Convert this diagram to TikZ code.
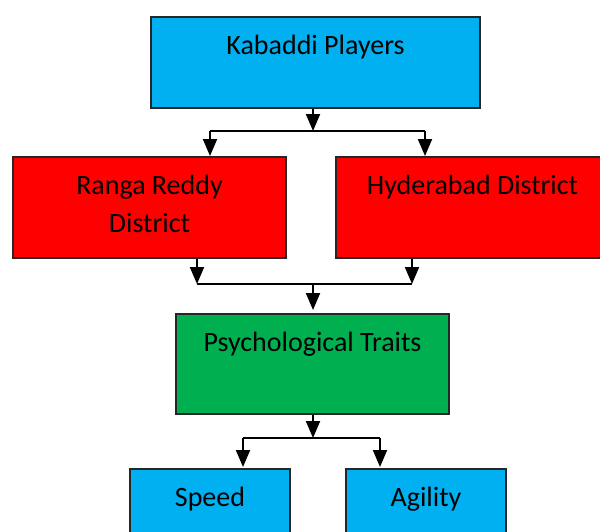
\documentclass[tikz,border=0pt]{standalone}
\definecolor{skyblue}{RGB}{0,176,240}
\definecolor{brightred}{RGB}{255,0,0}
\definecolor{leafgreen}{RGB}{0,176,80}
\colorlet{edge}{black!85}
\usepackage{fontspec}
\setmainfont{Carlito}
\usepackage{tikz}
\usetikzlibrary{positioning, arrows.meta}

\begin{document}
\begin{tikzpicture}[x=0.5pt, y=-0.5pt,
  catbox/.style={draw=edge, line width=1pt, anchor=north, align=center,
    inner ysep=0pt, text height=18.5pt, font=\fontsize{14}{19.2}\selectfont},
  wide/.style={minimum width=136.5pt},
  narrow/.style={minimum width=80pt},
  link/.style={line width=1pt, draw=black},
  arr/.style={link, -{Triangle[width=7pt, length=8.5pt]}},
]
  \useasboundingbox (0,0) rectangle (600,531);
  % boxes
  \node[catbox, fill=skyblue, minimum width=164.5pt, text depth=27pt] (kp) at (315.5,16) {Kabaddi Players};
  \node[catbox, wide, fill=brightred, text height=37.7pt, text depth=12.8pt] (rr) at (149.5,156) {Ranga Reddy\\District};
  \node[catbox, wide, fill=brightred, text depth=32pt] (hd) at (472.5,156) {Hyderabad District};
  \node[catbox, wide, fill=leafgreen, text depth=31.5pt] (pt) at (312.5,313) {Psychological Traits};
  \node[catbox, narrow, fill=skyblue, text depth=31.5pt] (sp) at (210,468) {Speed};
  \node[catbox, narrow, fill=skyblue, text depth=31.5pt] (ag) at (426,468) {Agility};
  % split under Kabaddi Players
  \coordinate (s1) at (313,131);
  \coordinate (s1l) at (210,131);
  \coordinate (s1r) at (425,131);
  \draw[arr] (s1 |- kp.south) -- (s1);
  \draw[link] (s1l) -- (s1r);
  \draw[arr] (s1l) -- (s1l |- rr.north);
  \draw[arr] (s1r) -- (s1r |- hd.north);
  % merge into Psychological Traits
  \coordinate (m1) at (313,284);
  \coordinate (m1l) at (197,284);
  \coordinate (m1r) at (412,284);
  \draw[arr] (m1l |- rr.south) -- (m1l);
  \draw[arr] (m1r |- hd.south) -- (m1r);
  \draw[link] (m1l) -- (m1r);
  \draw[arr, shorten >=1.5pt] (m1) -- (m1 |- pt.north);
  % split under Psychological Traits
  \coordinate (s2) at (313,438);
  \coordinate (s2l) at (243,438);
  \coordinate (s2r) at (380,438);
  \draw[arr] (s2 |- pt.south) -- (s2);
  \draw[link] (s2l) -- (s2r);
  \draw[arr, shorten >=0.5pt] (s2l) -- (s2l |- sp.north);
  \draw[arr, shorten >=0.5pt] (s2r) -- (s2r |- ag.north);
\end{tikzpicture}
\end{document}
